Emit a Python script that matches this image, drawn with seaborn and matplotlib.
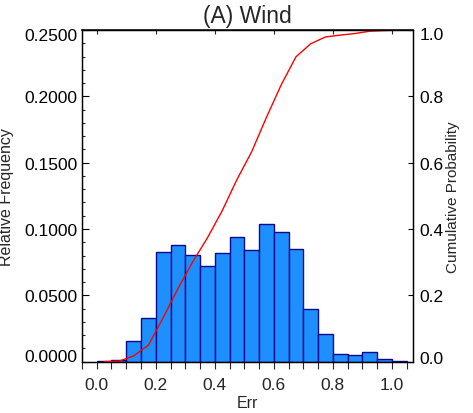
import numpy as np
import pandas as pd
import matplotlib
matplotlib.use('Agg')
import matplotlib.pyplot as plt
import matplotlib.transforms as mtransforms
from matplotlib.ticker import MultipleLocator, FixedLocator, FormatStrFormatter, NullFormatter
import seaborn as sns

# histogram bins (width 0.05)
bin_edges = [0.00, 0.05, 0.10, 0.15, 0.20, 0.25, 0.30, 0.35, 0.40, 0.45, 0.50,
             0.55, 0.60, 0.65, 0.70, 0.75, 0.80, 0.85, 0.90, 0.95, 1.00, 1.05]
bin_centers = [0.025, 0.075, 0.125, 0.175, 0.225, 0.275, 0.325, 0.375, 0.425, 0.475, 0.525,
               0.575, 0.625, 0.675, 0.725, 0.775, 0.825, 0.875, 0.925, 0.975, 1.025]
rel_freq = [0.0003, 0.0012, 0.0158, 0.0326, 0.0825, 0.0876, 0.0808, 0.0725, 0.0816, 0.0941, 0.0840,
            0.1036, 0.0979, 0.0846, 0.0394, 0.0206, 0.0055, 0.0048, 0.0070, 0.0020, 0.0005]
cum_prob = [0.0003, 0.0015, 0.0173, 0.0499, 0.1324, 0.2200, 0.3008, 0.3733, 0.4549, 0.5490, 0.6330,
            0.7366, 0.8345, 0.9191, 0.9585, 0.9791, 0.9846, 0.9894, 0.9964, 0.9984, 1.0000]

freq_ticks = [0.0, 0.05, 0.10, 0.15, 0.20, 0.25]
cum_ticks = [0.0, 0.2, 0.4, 0.6, 0.8, 1.0]

sns.set_theme(style='ticks')
plt.rcParams['font.family'] = ['Liberation Sans', 'DejaVu Sans']

fig = plt.figure(figsize=(4.73, 4.14), dpi=100)
ax = fig.add_axes([0.1727, 0.1239, 0.7000, 0.8012])

df = pd.DataFrame({'Err': bin_centers, 'freq': rel_freq})
sns.histplot(data=df, x='Err', weights='freq', bins=bin_edges, stat='count',
             color='#1E8FFF', edgecolor='#0A0A8C', linewidth=1.0, alpha=1.0, ax=ax)

ax.set_xlim(-0.051, 1.071)
ax.set_ylim(0, 0.25)

# left axis: inward ticks, major 0.05, minor 0.01
ax.yaxis.set_major_locator(FixedLocator(freq_ticks))
ax.yaxis.set_minor_locator(MultipleLocator(0.01))
ax.yaxis.set_major_formatter(FormatStrFormatter('%.4f'))
ax.tick_params(axis='y', which='major', direction='in', length=5, width=0.8, pad=3,
               labelsize=12.5, colors='black', right=False)
ax.tick_params(axis='y', which='minor', direction='in', length=2.5, width=0.8, right=False)

# bottom axis: outward ticks every 0.05, labels every 0.2
ax.xaxis.set_major_locator(MultipleLocator(0.2))
ax.xaxis.set_minor_locator(MultipleLocator(0.05))
ax.xaxis.set_major_formatter(FormatStrFormatter('%.1f'))
ax.tick_params(axis='x', which='major', direction='out', length=5, width=0.8, pad=6,
               labelsize=12.5, top=False)
ax.tick_params(axis='x', which='minor', direction='out', length=5, width=0.8, top=False)

# top axis: inward major ticks only
top = ax.secondary_xaxis('top')
top.xaxis.set_major_locator(MultipleLocator(0.2))
top.xaxis.set_major_formatter(NullFormatter())
top.tick_params(axis='x', direction='in', length=3, width=0.8)

ax.set_xlabel('Err', fontsize=11.5)
ax.xaxis.set_label_coords(0.5, -0.100)
ax.set_ylabel('Relative Frequency', fontsize=11.5)
ax.yaxis.set_label_coords(-0.205, 0.5)
ax.set_title('(A) Wind', fontsize=16.5, pad=6)

# cumulative probability on the right
ax2 = ax.twinx()
sns.lineplot(x=bin_centers, y=cum_prob, color='red', linewidth=1.0, ax=ax2)
ax2.set_ylim(0, 1.0)
ax2.yaxis.set_major_locator(FixedLocator(cum_ticks))
ax2.yaxis.set_major_formatter(FormatStrFormatter('%.1f'))
ax2.tick_params(axis='y', which='major', direction='in', length=3.5, width=0.8, pad=5,
                labelsize=12.5, colors='black')
ax2.set_ylabel('Cumulative Probability', fontsize=11)
ax2.yaxis.set_label_coords(1.10, 0.5)

for a in (ax, ax2):
    for s in a.spines.values():
        s.set_linewidth(0.9)
        s.set_color('black')
    a.grid(False)

# end labels sit a bit inside the axis range, as in the original
fig.canvas.draw()
def nudge(tick, dy_px):
    for lab in (tick.label1, tick.label2):
        lab.set_transform(lab.get_transform() +
                          mtransforms.ScaledTranslation(0, dy_px / 100, fig.dpi_scale_trans))

lt = ax.yaxis.get_major_ticks()
nudge(lt[0], 7)
nudge(lt[len(freq_ticks) - 1], -4)
rt = ax2.yaxis.get_major_ticks()
nudge(rt[0], 5)
nudge(rt[len(cum_ticks) - 1], -3)

fig.savefig('out.png', dpi=100)
